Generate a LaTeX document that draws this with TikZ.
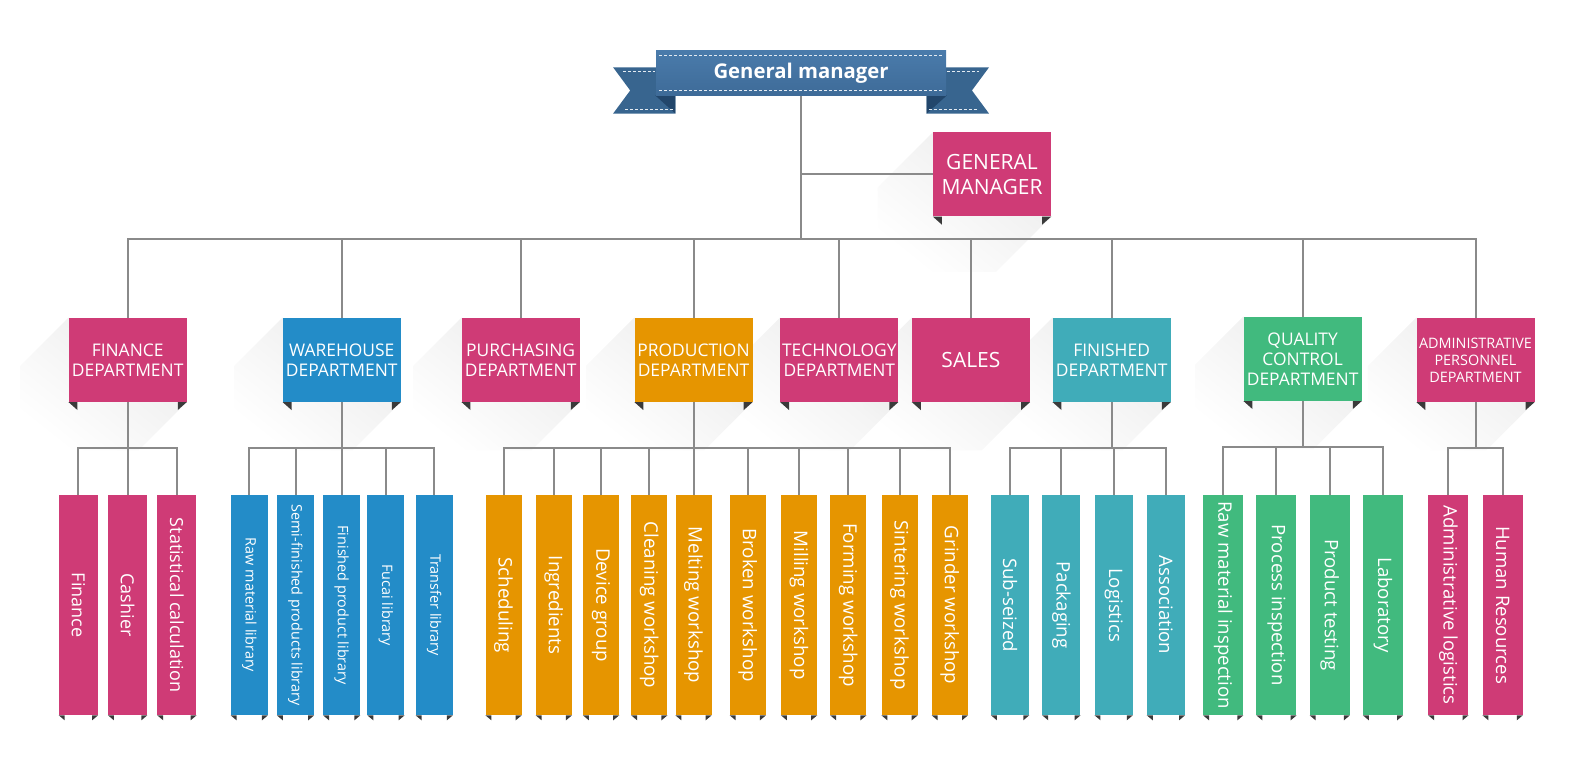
\documentclass[tikz,border=0pt]{standalone}
\usepackage{fontspec}
\setmainfont{Open Sans}
\usepackage{graphicx}
\usetikzlibrary{calc,fadings}
\definecolor{cpink}{HTML}{CF3B76}
\definecolor{cblue}{HTML}{238CC8}
\definecolor{corange}{HTML}{E69500}
\definecolor{cteal}{HTML}{40ACB9}
\definecolor{cgreen}{HTML}{41BA7E}
\definecolor{cline}{HTML}{8A8A8A}
\definecolor{ctab}{HTML}{3A3A3A}
\definecolor{bbandtop}{HTML}{4A7BAB}
\definecolor{bbandbot}{HTML}{3E6B98}
\definecolor{btail}{HTML}{38658F}
\definecolor{bfold}{HTML}{22466B}
\tikzfading[name=shfade, top color=transparent!70, bottom color=transparent!100]
\pgfdeclarelayer{bg}
\pgfsetlayers{bg,main}
\newcommand{\mkshadow}[2]{\fill[longshadow] (#1.north west) -- ($(#1.north west)+(-#2,#2)$) -- ($(#1.south west)+(-#2,#2)$) -- ($(#1.south east)+(-#2,#2)$) -- (#1.south east) -- cycle;}
\newcommand{\mktabs}[3]{\fill[tabfill] (#1.south west) -- ++(#2,0) -- ++(0,#3) -- cycle; \fill[tabfill] (#1.south east) -- ++(-#2,0) -- ++(0,#3) -- cycle;}
\begin{document}
\begin{tikzpicture}[x=1.005pt,y=-1.005pt,
  conn/.style={draw=cline, line width=2pt},
  deptbox/.style={rectangle, inner sep=0pt, minimum width=118pt, minimum height=84pt, text=white, align=center, font=\fontsize{17.4}{20}\selectfont},
  leafbox/.style={rectangle, inner sep=0pt, minimum height=220pt, text=white},
  tabfill/.style={fill=ctab},
  longshadow/.style={fill=black!25, path fading=shfade, fading angle=-45},
  stitch/.style={draw=white!85!bbandtop, line width=0.8pt, dash pattern=on 3pt off 2pt},
]
\useasboundingbox (0,0) rectangle (1568,766);

% ---------- banner ----------
\fill[btail] (610,67) -- (672,67) -- (672,113) -- (610,113) -- (627,90) -- cycle;
\fill[btail] (984,67) -- (922,67) -- (922,113) -- (984,113) -- (967,90) -- cycle;
\fill[bfold] (652,95) -- (672,95) -- (672,113) -- cycle;
\fill[bfold] (942,95) -- (922,95) -- (922,113) -- cycle;
\draw[stitch] (620,71) -- (652,71);
\draw[stitch] (622,109) -- (670,109);
\draw[stitch] (942,71) -- (974,71);
\draw[stitch] (924,109) -- (972,109);
\node[rectangle, inner sep=0pt, minimum width=290pt, minimum height=45pt, top color=bbandtop, bottom color=bbandbot, text=white, font=\fontsize{20.3}{24}\selectfont\bfseries] (banner) at (797,72.5) {General manager};
\draw[stitch] (656,55) -- (938,55);
\draw[stitch] (656,90) -- (938,90);

% ---------- general manager box ----------
\node[deptbox, fill=cpink, font=\fontsize{21}{25}\selectfont] (gmbox) at (987,173.5) {GENERAL\\MANAGER};

% ---------- departments ----------
\node[deptbox, fill=cpink] (fin) at (127,358) {FINANCE\\DEPARTMENT};
\node[deptbox, fill=cblue] (wh) at (340,358) {WAREHOUSE\\DEPARTMENT};
\node[deptbox, fill=cpink] (pur) at (518,358) {PURCHASING\\DEPARTMENT};
\node[deptbox, fill=corange] (prod) at (690,358) {PRODUCTION\\DEPARTMENT};
\node[deptbox, fill=cpink] (tech) at (835,358) {TECHNOLOGY\\DEPARTMENT};
\node[deptbox, fill=cpink, font=\fontsize{21}{24}\selectfont] (sales) at (966,358) {SALES};
\node[deptbox, fill=cteal] (fd) at (1106,358) {FINISHED\\DEPARTMENT};
\node[deptbox, fill=cgreen] (qc) at (1296,357) {QUALITY\\CONTROL\\DEPARTMENT};
\node[deptbox, fill=cpink, font=\fontsize{14.4}{17}\selectfont] (adm) at (1468,358) {ADMINISTRATIVE\\PERSONNEL\\DEPARTMENT};

% ---------- leaves ----------
\foreach \nm/\cx/\tx in {fa/78/Finance, fb/127/Cashier, fc/176/Statistical calculation}
  \node[leafbox, fill=cpink, minimum width=39pt] (\nm) at (\cx,602) {\rotatebox{-90}{\fontsize{18}{20}\selectfont \tx}};
\foreach \nm/\cx/\tx in {wa/248/Raw material library, wb/294/Semi-finished products library, wc/340/Finished product library, wd/384/Fucai library, we/432/Transfer library}
  \node[leafbox, fill=cblue, minimum width=37pt] (\nm) at (\cx,602) {\rotatebox{-90}{\fontsize{14.4}{16}\selectfont \tx}};
\foreach \nm/\cx/\tx in {pa/501/Scheduling, pb/551/Ingredients, pc/598/Device group, pd/646/Cleaning workshop, pe/690/Melting workshop, pf/744/Broken workshop, pg/795/Milling workshop, ph/844/Forming workshop, pi/895/Sintering workshop, pj/945/Grinder workshop}
  \node[leafbox, fill=corange, minimum width=36pt] (\nm) at (\cx,602) {\rotatebox{-90}{\fontsize{18.7}{20}\selectfont \tx}};
\foreach \nm/\cx/\tx in {ka/1005/Sub-seized, kb/1056/Packaging, kc/1108/Logistics, kd/1160/Association}
  \node[leafbox, fill=cteal, minimum width=38pt] (\nm) at (\cx,602) {\rotatebox{-90}{\fontsize{18.6}{20}\selectfont \tx}};
\foreach \nm/\cx/\tx in {qa/1217/Raw material inspection, qb/1270/Process inspection, qc2/1323/Product testing, qd/1376/Laboratory}
  \node[leafbox, fill=cgreen, minimum width=40pt] (\nm) at (\cx,602) {\rotatebox{-90}{\fontsize{18.6}{20}\selectfont \tx}};
\foreach \nm/\cx/\tx in {aa/1441/Administrative logistics, ab/1495/Human Resources}
  \node[leafbox, fill=cpink, minimum width=40pt] (\nm) at (\cx,602) {\rotatebox{-90}{\fontsize{18.6}{20}\selectfont \tx}};

% ---------- tabs ----------
\foreach \nm in {gmbox,fin,wh,pur,prod,tech,sales,fd,qc,adm} {\mktabs{\nm}{9}{8}}
\foreach \nm in {fa,fb,fc,wa,wb,wc,wd,we,pa,pb,pc,pd,pe,pf,pg,ph,pi,pj,ka,kb,kc,kd,qa,qb,qc2,qd,aa,ab} {\mktabs{\nm}{6}{5}}

% ---------- shadows and connectors (behind) ----------
\begin{pgfonlayer}{bg}
\mkshadow{gmbox}{55}
\foreach \nm in {fin,wh,pur,prod,tech,sales,fd,qc,adm} {\mkshadow{\nm}{48}}
\coordinate (bus) at (797,238);
\draw[conn] (banner.south) -- (bus);
\draw[conn] (banner.south |- gmbox.west) -- (gmbox.west);
\foreach \nm in {fin,wh,pur,prod,tech,sales,fd,qc,adm} {\draw[conn] (bus) -| (\nm.north);}
\foreach \d/\ls in {fin/{fa,fb,fc}, wh/{wa,wb,wc,wd,we}, prod/{pa,pb,pc,pd,pe,pf,pg,ph,pi,pj}, fd/{ka,kb,kc,kd}, qc/{qa,qb,qc2,qd}, adm/{aa,ab}} {
  \coordinate (\d j) at ($(\d.south)+(0,46)$);
  \draw[conn] (\d.south) -- (\d j);
  \foreach \lf in \ls {\draw[conn] (\d j) -| (\lf.north);}
}
\end{pgfonlayer}
\end{tikzpicture}
\end{document}
